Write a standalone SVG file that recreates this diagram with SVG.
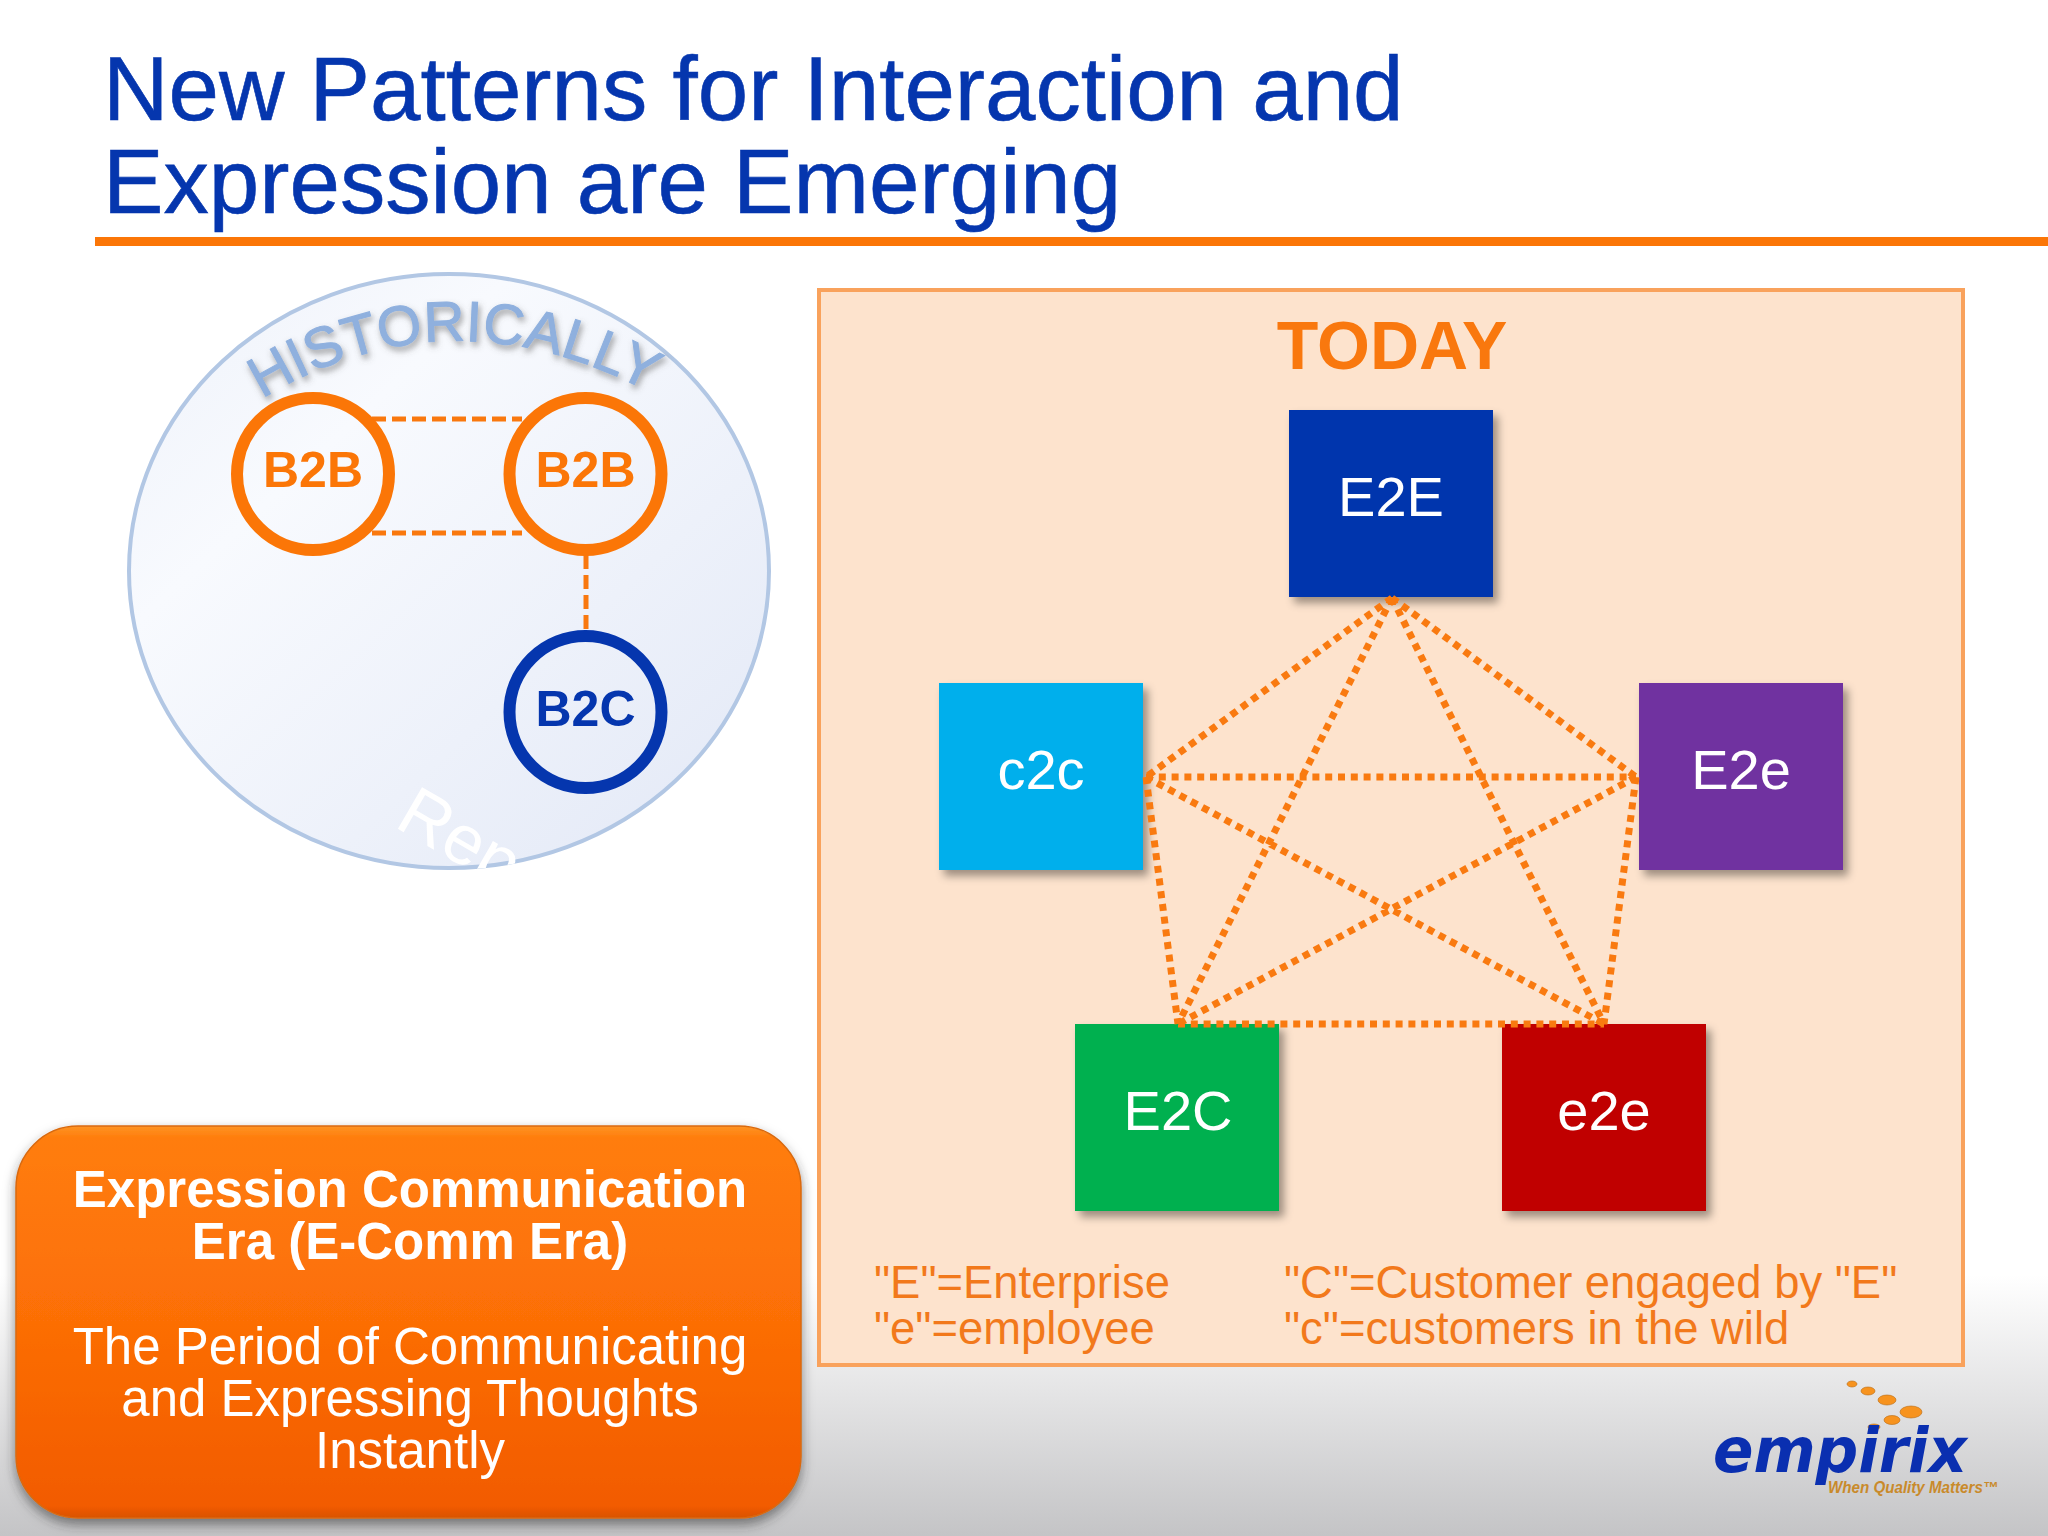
<svg xmlns="http://www.w3.org/2000/svg" width="2048" height="1536" viewBox="0 0 2048 1536">
<style>
text{font-family:"Liberation Sans",Arial,sans-serif}
.ring{fill:none;stroke-width:12}
.lbl{font-size:50px;font-weight:bold;text-anchor:middle}
.sq{filter:url(#sqs)}
.sqt{font-size:56px;fill:#fff;text-anchor:middle}
.dash{stroke:#f9780e;stroke-width:5;stroke-dasharray:14 6;fill:none}
.dot{stroke:#f97a10;stroke-width:7;stroke-dasharray:7 5.800;fill:none}
.leg{font-size:45.4px;fill:#f2791b}
.title{font-size:90.7px;fill:#0536ae;stroke:#0536ae;stroke-width:.6}
.bx{font-size:51px;fill:#fff;text-anchor:middle}
.d{fill:#f7931e;stroke:#b86a10;stroke-width:.6}
</style>
<defs>
<linearGradient id="bg" x1="0" y1="0" x2="0" y2="1"><stop offset="0" stop-color="#fff"/><stop offset=".83" stop-color="#fff"/><stop offset="1" stop-color="#c4c4c6"/></linearGradient>
<linearGradient id="disc" x1="0" y1="0" x2="1" y2="1"><stop offset="0" stop-color="#eef2fa"/><stop offset=".3" stop-color="#f8fafe"/><stop offset="1" stop-color="#e2e8f6"/></linearGradient>
<linearGradient id="box" x1="0" y1="0" x2="0" y2="1"><stop offset="0" stop-color="#fe9424"/><stop offset=".03" stop-color="#ff7d0c"/><stop offset=".5" stop-color="#fc6e06"/><stop offset=".97" stop-color="#f25b03"/><stop offset="1" stop-color="#d95204"/></linearGradient>
<filter id="sqs" x="-10%" y="-10%" width="125%" height="125%"><feDropShadow dx="5" dy="6" stdDeviation="4" flood-color="#000" flood-opacity=".38"/></filter>
<filter id="hs" x="-10%" y="-20%" width="120%" height="150%"><feGaussianBlur stdDeviation=".7" result="s"/><feDropShadow in="s" dx="2" dy="4" stdDeviation="3" flood-color="#555" flood-opacity=".55"/></filter>
<filter id="bs" x="-5%" y="-5%" width="110%" height="112%"><feDropShadow dx="0" dy="6" stdDeviation="6" flood-color="#333" flood-opacity=".55"/></filter>
<clipPath id="cdisc"><ellipse cx="449" cy="571" rx="320" ry="299"/></clipPath>
<path id="arc" d="M262 399Q449 285 655 395"/>
</defs>
<rect id="background" width="2048" height="1536" fill="url(#bg)"/>
<g id="title">
<text class="title" x="103" y="120">New Patterns for Interaction and</text>
<text class="title" x="103" y="213">Expression are Emerging</text>
<rect x="95" y="237" width="1953" height="9" fill="#fb7607"/>
</g>
<g id="historically">
<ellipse cx="449" cy="571" rx="320" ry="297" fill="url(#disc)" stroke="#b2c7e4" stroke-width="4"/>
<text font-size="57" fill="#8fb0de" stroke="#8fb0de" filter="url(#hs)"><textPath href="#arc">HISTORICALLY</textPath></text>
<g clip-path="url(#cdisc)"><text x="393" y="826" font-size="70" fill="#fff" transform="rotate(30 393 826)">Rep</text></g>
</g>
<g id="connectors-historic">
<path class="dash" d="M372 419H522M372 533H522M586 555V631"/>
</g>
<g id="node-b2b-1"><circle class="ring" cx="313" cy="474" r="76" stroke="#fb7607"/><text class="lbl" x="313" y="487" fill="#fb7607">B2B</text></g>
<g id="node-b2b-2"><circle class="ring" cx="585.500" cy="474" r="76" stroke="#fb7607"/><text class="lbl" x="585.500" y="487" fill="#fb7607">B2B</text></g>
<g id="node-b2c"><circle class="ring" cx="585.500" cy="712" r="76" stroke="#0536ae"/><text class="lbl" x="585.500" y="726" fill="#0536ae">B2C</text></g>
<g id="today-panel">
<rect x="819" y="290" width="1144" height="1075" fill="#fde3cd" stroke="#f9a25c" stroke-width="4"/>
<text x="1392" y="369" font-size="68" font-weight="bold" fill="#f9780e" text-anchor="middle">TODAY</text>
</g>
<g id="node-e2e-top"><rect class="sq" x="1289" y="410" width="204" height="187" fill="#0035ad"/><text class="sqt" x="1391" y="516">E2E</text></g>
<g id="node-c2c"><rect class="sq" x="939" y="683" width="204" height="187" fill="#00afec"/><text class="sqt" x="1041" y="789">c2c</text></g>
<g id="node-e2e-right"><rect class="sq" x="1639" y="683" width="204" height="187" fill="#7030a0"/><text class="sqt" x="1741" y="789">E2e</text></g>
<g id="node-e2c"><rect class="sq" x="1075" y="1024" width="204" height="187" fill="#00b050"/><text class="sqt" x="1178" y="1130">E2C</text></g>
<g id="node-e2e-low"><rect class="sq" x="1502" y="1024" width="204" height="187" fill="#c00000"/><text class="sqt" x="1604" y="1130">e2e</text></g>
<g id="connectors-today">
<path class="dot" d="M1392 598L1146 777M1392 598L1178 1024M1392 598L1636 777M1392 598L1604 1024M1146 777H1636M1146 777L1178 1024M1146 777L1604 1024M1636 777L1178 1024M1636 777L1604 1024M1178 1024H1604"/>
</g>
<g id="legend">
<text class="leg" x="874" y="1298">"E"=Enterprise</text>
<text class="leg" x="874" y="1344">"e"=employee</text>
<text class="leg" x="1284" y="1298">"C"=Customer engaged by "E"</text>
<text class="leg" x="1284" y="1344">"c"=customers in the wild</text>
</g>
<g id="era-box">
<rect x="16" y="1126" width="785" height="392" rx="62" fill="url(#box)" stroke="#d96a10" stroke-width="1.500" filter="url(#bs)"/>
<text class="bx" x="410" y="1207" font-weight="bold">Expression Communication</text>
<text class="bx" x="410" y="1259" font-weight="bold">Era (E-Comm Era)</text>
<text class="bx" x="410" y="1364">The Period of Communicating</text>
<text class="bx" x="410" y="1416">and Expressing Thoughts</text>
<text class="bx" x="410" y="1468">Instantly</text>
</g>
<g id="logo">
<ellipse class="d" cx="1852" cy="1384" rx="5" ry="3"/><ellipse class="d" cx="1868" cy="1391" rx="7" ry="4"/><ellipse class="d" cx="1887" cy="1400" rx="9" ry="5"/><ellipse class="d" cx="1911" cy="1412" rx="11" ry="6"/><ellipse class="d" cx="1892" cy="1420" rx="8" ry="4.500"/><ellipse class="d" cx="1874" cy="1427" rx="6" ry="3"/>
<text x="1713" y="1472" font-size="62" font-weight="bold" font-style="italic" fill="#0a2fb0" textLength="254" lengthAdjust="spacingAndGlyphs" style="font-family:'DejaVu Sans',sans-serif">empirix</text>
<text x="1828" y="1493" font-size="16" font-weight="bold" font-style="italic" fill="#c98a2b" textLength="170" lengthAdjust="spacingAndGlyphs">When Quality Matters™</text>
</g>
</svg>
